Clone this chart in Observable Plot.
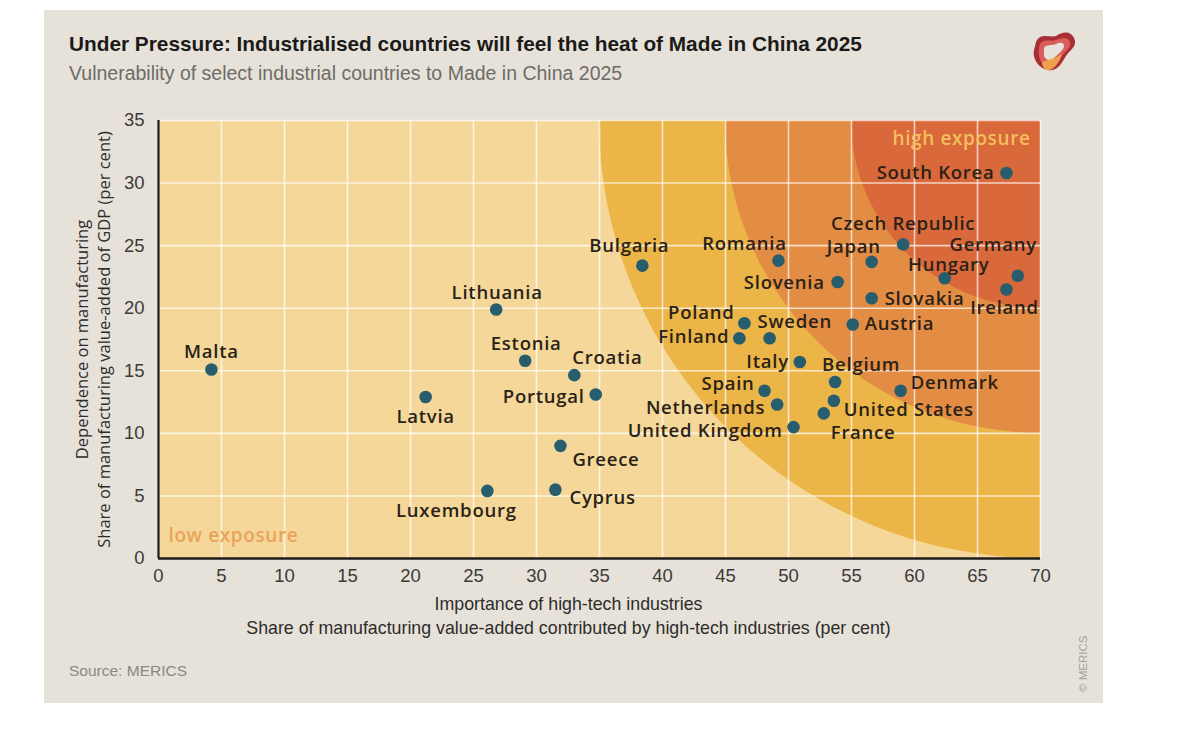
<!DOCTYPE html>
<html>
<head>
<meta charset="utf-8">
<script src="https://cdn.jsdelivr.net/npm/d3@7"></script>
<script src="https://cdn.jsdelivr.net/npm/@observablehq/plot@0.6"></script>
<style>
  html, body { margin: 0; padding: 0; background: #ffffff; }
  #panel { position: absolute; left: 44px; top: 10px; width: 1059px; height: 693px; background: #e6e2da; overflow: hidden; }
  #title { position: absolute; left: 25px; top: 22px; font-family: "Liberation Sans", sans-serif; font-weight: bold; font-size: 20.8px; color: #1c1a18; white-space: nowrap; }
  #subtitle { position: absolute; left: 25px; top: 52px; font-family: "Liberation Sans", sans-serif; font-size: 19.5px; color: #6e6c68; white-space: nowrap; }
  #source { position: absolute; left: 25px; top: 652px; font-family: "Liberation Sans", sans-serif; font-size: 15.5px; color: #8a8884; }
  #copy { position: absolute; left: 1033px; top: 682px; transform: rotate(-90deg); transform-origin: 0 0; font-family: "Liberation Sans", sans-serif; font-size: 11.5px; color: #a3a19c; white-space: nowrap; }
  #logo { position: absolute; left: 984px; top: 18px; }
  #chart { position: absolute; left: 0; top: 0; }
</style>
</head>
<body>
<div id="panel">
  <div id="title">Under Pressure: Industrialised countries will feel the heat of Made in China 2025</div>
  <div id="subtitle">Vulnerability of select industrial countries to Made in China 2025</div>
  <svg id="logo" width="50" height="46" viewBox="0 0 50 46">
    <path d="M8 14 C12 4 22 10 28 8 C34 4 42 2 46 10 C50 18 42 22 38 28 C34 34 30 44 20 42 C10 40 4 30 6 22 Z" fill="#a82e38"/>
    <path d="M12 16 C16 10 22 14 28 12 C34 10 40 8 42 14 C44 20 36 24 32 30 C28 36 24 40 18 38 C12 36 9 26 12 16 Z" fill="#d9605a"/>
    <path d="M16 20 C18 16 24 18 28 16 C32 14 36 14 36 18 C36 22 30 26 26 30 C22 34 18 32 16 28 Z" fill="#e6e2da"/>
    <path d="M14 34 C20 32 28 30 34 26 C32 34 26 42 20 42 C16 42 14 38 14 34 Z" fill="#eea04c"/>
  </svg>
  <div id="source">Source: MERICS</div>
  <div id="copy">© MERICS</div>
  <div id="chart"></div>
</div>
<script>
// ---- data ----
const countries = ["Malta","Latvia","Lithuania","Estonia","Croatia","Portugal","Greece","Cyprus","Luxembourg","Bulgaria","Romania","Slovenia","Japan","Czech Republic","Hungary","Germany","Ireland","South Korea","Slovakia","Austria","Poland","Finland","Sweden","Italy","Belgium","Spain","Netherlands","United States","France","United Kingdom","Denmark"];
const highTechShare = [4.2, 21.2, 26.8, 29.1, 33.0, 34.7, 31.9, 31.5, 26.1, 38.4, 49.2, 53.9, 56.6, 59.1, 62.4, 68.2, 67.3, 67.3, 56.6, 55.1, 46.5, 46.1, 48.5, 50.9, 53.7, 48.1, 49.1, 53.6, 52.8, 50.4, 58.9];
const manufShare = [15.1, 12.9, 19.9, 15.8, 14.65, 13.1, 9.0, 5.5, 5.4, 23.4, 23.8, 22.1, 23.7, 25.1, 22.4, 22.6, 21.5, 30.8, 20.8, 18.7, 18.8, 17.6, 17.6, 15.7, 14.1, 13.4, 12.3, 12.6, 11.6, 10.5, 13.4];
const zoneRadii = [35, 25, 15];
const xTicks = [0, 5, 10, 15, 20, 25, 30, 35, 40, 45, 50, 55, 60, 65, 70];
const yTicks = [0, 5, 10, 15, 20, 25, 30, 35];
const zoneLabels = ["high exposure", "low exposure"];
const xTitle = ["Importance of high-tech industries", "Share of manufacturing value-added contributed by high-tech industries (per cent)"];
const yTitle = ["Dependence on manufacturing", "Share of manufacturing value-added of GDP (per cent)"];

// ---- layout (label placement: anchor, dx, dy in px) ----
const labelPlacement = {
  "Malta": ["middle", 0, -17], "Latvia": ["middle", 0, 20], "Lithuania": ["middle", 1, -16],
  "Estonia": ["middle", 1, -17], "Croatia": ["start", -2, -17], "Portugal": ["end", -11, 3],
  "Greece": ["start", 12, 14], "Cyprus": ["start", 14, 8], "Luxembourg": ["middle", -31, 20],
  "Bulgaria": ["middle", -13, -20], "Romania": ["middle", -34, -17], "Slovenia": ["end", -13, 1],
  "Japan": ["middle", -18, -15], "Czech Republic": ["middle", 0, -20], "Hungary": ["middle", 4, -13],
  "Germany": ["end", 19, -31], "Ireland": ["middle", -2, 19], "South Korea": ["end", -12, 0],
  "Slovakia": ["start", 13, 1], "Austria": ["start", 12, 0], "Poland": ["end", -10, -10],
  "Finland": ["end", -10, -1], "Sweden": ["start", -12, -16], "Italy": ["end", -11, 0],
  "Belgium": ["start", -13, -17], "Spain": ["end", -10, -7], "Netherlands": ["end", -12, 4],
  "United States": ["start", 10, 9], "France": ["start", 7, 20], "United Kingdom": ["end", -11, 4],
  "Denmark": ["start", 10, -8]
};
const zoneColors = ["#ebb547", "#e38c44", "#d9683a"];

const data = countries.map((c, i) => ({country: c, x: highTechShare[i], y: manufShare[i]}));
const xMax = xTicks[xTicks.length - 1], yMax = yTicks[yTicks.length - 1];

// zones: quarter ellipses centred on the top-right corner, drawn through the plot scales
function zones(index, scales, values, dimensions) {
  const {width, height, marginLeft, marginRight, marginTop, marginBottom} = dimensions;
  const g = d3.create("svg:g");
  const id = "zoneclip";
  g.append("clipPath").attr("id", id).append("rect")
    .attr("x", marginLeft).attr("y", marginTop)
    .attr("width", width - marginLeft - marginRight)
    .attr("height", height - marginTop - marginBottom);
  const cx = scales.x(xMax), cy = scales.y(yMax);
  zoneRadii.forEach((r, i) => {
    g.append("ellipse")
      .attr("clip-path", `url(#${id})`)
      .attr("cx", cx).attr("cy", cy)
      .attr("rx", cx - scales.x(xMax - r))
      .attr("ry", scales.y(yMax - r) - cy)
      .attr("fill", zoneColors[i]);
  });
  return g.node();
}

const labelFont = {fontFamily: "Open Sans, sans-serif", fontSize: 18.5, fontWeight: 600, fill: "#2a2218"};

const plot = Plot.plot({
  width: 1059,
  height: 640,
  marginLeft: 114,
  marginRight: 63,
  marginTop: 110,
  marginBottom: 92,
  style: {fontFamily: "Liberation Sans, sans-serif", fontSize: "18px", color: "#3c3a37", background: "transparent", overflow: "visible"},
  x: {domain: [0, xMax]},
  y: {domain: [0, yMax]},
  marks: [
    Plot.frame({fill: "#f5d899", stroke: null}),
    zones,
    Plot.gridX({ticks: xTicks, stroke: "#ffffff", strokeOpacity: 0.7, strokeWidth: 1.6}),
    Plot.gridY({ticks: yTicks, stroke: "#ffffff", strokeOpacity: 0.7, strokeWidth: 1.6}),
    Plot.axisX({ticks: xTicks, tickSize: 0, tickPadding: 10, label: null, fontSize: 18.5}),
    Plot.axisY({ticks: yTicks, tickSize: 0, tickPadding: 14, label: null, fontSize: 18.5}),
    Plot.ruleX([0], {stroke: "#1e1c1a", strokeWidth: 2.2}),
    Plot.ruleY([0], {stroke: "#1e1c1a", strokeWidth: 2.6}),
    Plot.text([zoneLabels[0]], {frameAnchor: "top-right", dx: -10, dy: 18, lineAnchor: "middle", textAnchor: "end", fill: "#f4bf5e", fontFamily: "Open Sans, sans-serif", fontWeight: 600, fontSize: 19}),
    Plot.text([zoneLabels[1]], {frameAnchor: "bottom-left", dx: 10, dy: -23, lineAnchor: "middle", textAnchor: "start", fill: "#e9a35c", fontFamily: "Open Sans, sans-serif", fontWeight: 600, fontSize: 19}),
    Plot.dot(data, {x: "x", y: "y", r: 6.3, fill: "#285d6e", stroke: null}),
    ...countries.map(c => {
      const [anchor, dx, dy] = labelPlacement[c];
      return Plot.text(data.filter(d => d.country === c), {x: "x", y: "y", text: "country", textAnchor: anchor, dx, dy, ...labelFont});
    }),
    Plot.text([xTitle[0]], {frameAnchor: "bottom", dx: -31, dy: 46, lineAnchor: "middle", fill: "#2e2c2a", fontSize: 17.8}),
    Plot.text([xTitle[1]], {frameAnchor: "bottom", dx: -31, dy: 70, lineAnchor: "middle", fill: "#2e2c2a", fontSize: 17.8}),
    Plot.text([yTitle[0]], {frameAnchor: "left", dx: -76, rotate: -90, textAnchor: "middle", lineAnchor: "middle", fill: "#2e2c2a", fontFamily: "Open Sans, sans-serif", fontSize: 16.5}),
    Plot.text([yTitle[1]], {frameAnchor: "left", dx: -54, rotate: -90, textAnchor: "middle", lineAnchor: "middle", fill: "#2e2c2a", fontFamily: "Open Sans, sans-serif", fontSize: 16.5})
  ]
});
// widen the label lettering to match the reference typeface
d3.select(plot).selectAll("text")
  .filter(function() { return countries.includes(this.textContent); })
  .attr("letter-spacing", "0.75");
d3.select(plot).selectAll("text")
  .filter(function() { return zoneLabels.includes(this.textContent); })
  .attr("letter-spacing", "0.6");
document.getElementById("chart").appendChild(plot);
</script>
</body>
</html>
